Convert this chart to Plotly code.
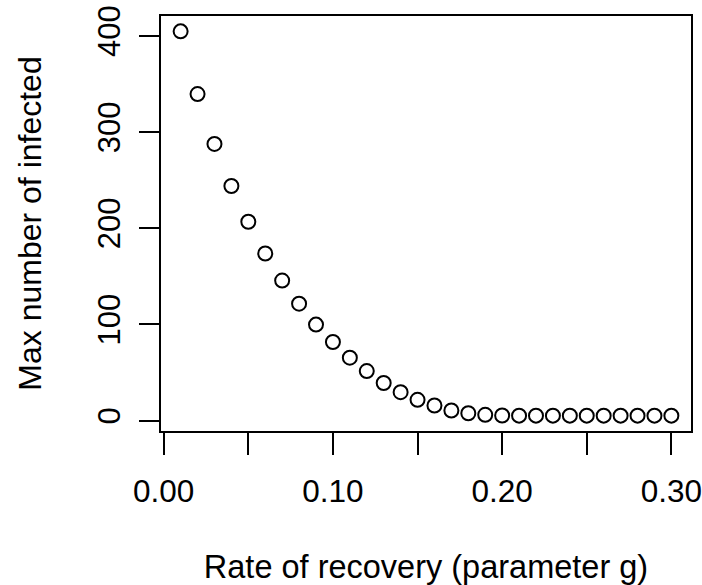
import plotly.graph_objects as go

recovery_rate = [round(0.01 * i, 2) for i in range(1, 31)]
max_infected = [404.5, 339.3, 287.5, 243.8, 206.6, 173.6, 145.5, 121.5, 99.7, 81.6,
                65.3, 51.4, 39.0, 29.5, 21.5, 15.6, 10.4, 7.6, 5.9, 5.2,
                5.1, 5.1, 5.1, 5.1, 5.1, 5.1, 5.1, 5.1, 5.1, 5.1]

x_tickvals = [0.0, 0.05, 0.10, 0.15, 0.20, 0.25, 0.30]
x_ticktext = ["0.00", "", "0.10", "", "0.20", "", "0.30"]
y_tickvals = [0, 100, 200, 300, 400]
y_ticktext = ["0", "100", "200", "300", "400"]

FONT = "Liberation Sans, Arial, sans-serif"

fig = go.Figure()
fig.add_trace(go.Scatter(
    x=recovery_rate, y=max_infected, mode="markers",
    marker=dict(symbol="circle-open", size=14, color="black",
                line=dict(width=2, color="black")),
    showlegend=False, hoverinfo="x+y",
))

xmin, xmax = min(recovery_rate), max(recovery_rate)
ymin, ymax = min(max_infected), max(max_infected)
xpad = 0.04 * (xmax - xmin)
ypad = 0.04 * (ymax - ymin)

fig.update_layout(
    width=702, height=585,
    margin=dict(l=161, r=11, t=16, b=154),
    paper_bgcolor="white", plot_bgcolor="white",
    font=dict(family=FONT, size=31, color="black"),
    xaxis=dict(
        range=[xmin - xpad, xmax + xpad],
        tickmode="array", tickvals=x_tickvals, ticktext=x_ticktext,
        tickfont=dict(size=31.5),
        ticks="outside", ticklen=22, tickwidth=2, tickcolor="black",
        showline=True, linewidth=2, linecolor="black", mirror=True,
        showgrid=False, zeroline=False, automargin=False,
        ticklabelstandoff=9, ticklabeloverflow="allow",
        title=dict(text="Rate of recovery (parameter g)", standoff=49,
                   font=dict(size=32.5)),
    ),
    yaxis=dict(
        range=[ymin - ypad, ymax + ypad],
        tickmode="array", tickvals=y_tickvals, ticktext=y_ticktext,
        tickangle=-90, tickfont=dict(size=31),
        ticks="outside", ticklen=20, tickwidth=2, tickcolor="black",
        showline=True, linewidth=2, linecolor="black", mirror=True,
        showgrid=False, zeroline=False, automargin=False,
        ticklabelstandoff=7, ticklabeloverflow="allow",
        title=dict(text="Max number of infected", standoff=40,
                   font=dict(size=32)),
    ),
)

fig.write_html(
    "out.html",
    config={"displayModeBar": False},
    post_script="document.body.style.margin='0';document.body.style.overflow='hidden';",
)
